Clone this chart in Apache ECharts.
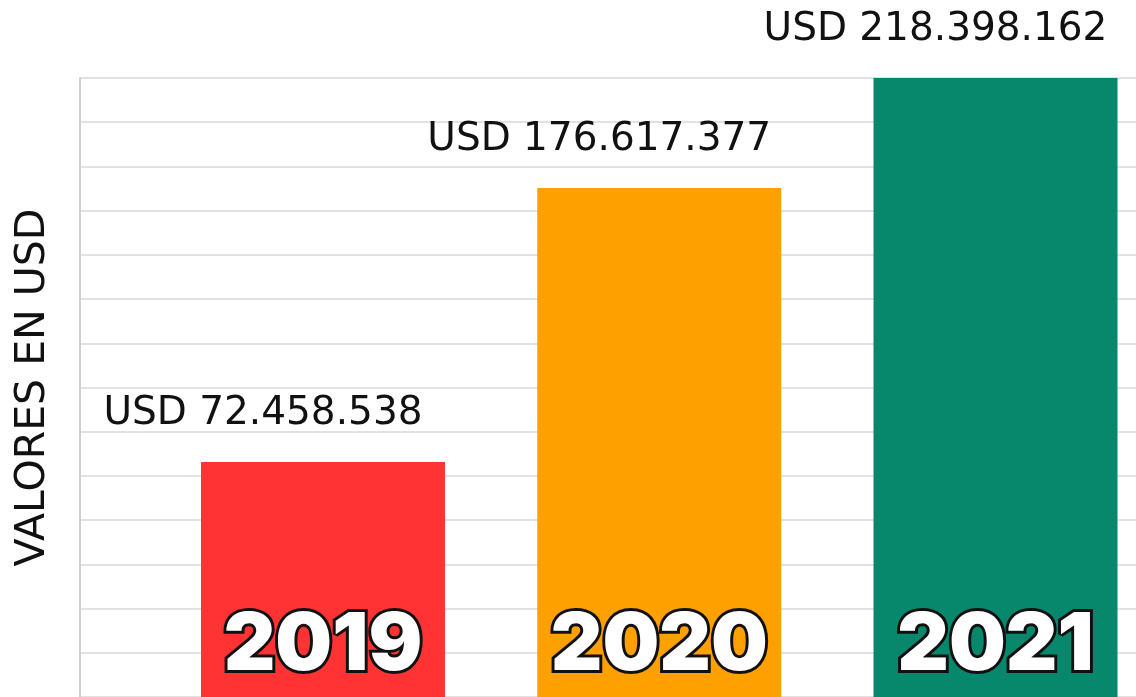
<!DOCTYPE html>
<html>
<head>
<meta charset="utf-8">
<title>Valores en USD</title>
<script src="https://cdn.jsdelivr.net/npm/echarts@6/dist/echarts.min.js"></script>
<style>
  html, body { margin: 0; padding: 0; background: #fff; }
  #chart { width: 1136px; height: 697px; }
</style>
</head>
<body>
<div id="chart"></div>
<script>
// datos
const years = ['2019', '2020', '2021']
const values = [72458538, 176617377, 218398162]

// escala del eje (sin etiquetas visibles)
const axisStep = 16800000
const axisMin = -axisStep
const axisMax = 13 * axisStep

const barColors = ['#ff3334', '#fea000', '#07876c']
const barWidth = 244

const fmt = v => String(v).replace(/\B(?=(\d{3})+(?!\d))/g, '.')

const renderBar = (params, api) => {
  const i = api.value(0)
  const v = api.value(1)
  const top = api.coord([i, v])
  const cs = params.coordSys
  const bottom = cs.y + cs.height
  return {
    type: 'group',
    children: [
      {
        type: 'rect',
        shape: { x: top[0] - barWidth / 2, y: top[1], width: barWidth, height: bottom - top[1] },
        style: { fill: barColors[i] }
      },
      {
        type: 'text',
        x: top[0] - 60,
        y: top[1] - 48,
        style: {
          text: 'USD ' + fmt(v),
          fill: '#111',
          fontSize: 39,
          fontFamily: 'DejaVu Sans',
          align: 'center',
          verticalAlign: 'middle'
        }
      },
      {
        type: 'text',
        x: top[0],
        y: bottom - 51,
        style: {
          text: years[i],
          fill: '#fff',
          stroke: '#111',
          lineWidth: 6,
          strokeFirst: true,
          fontSize: 80,
          fontWeight: 900,
          fontFamily: 'Inter',
          align: 'center',
          verticalAlign: 'middle'
        }
      }
    ]
  }
}

const chart = echarts.init(document.getElementById('chart'))

chart.setOption({
  backgroundColor: '#fff',
  animation: false,
  grid: [
    { left: 80, right: 0, top: 78, height: 622.5 },
    { left: 323, width: 672.5, top: 78, height: 622.5 }
  ],
  xAxis: [
    { type: 'value', gridIndex: 0, show: false, min: 0, max: 1 },
    { type: 'category', gridIndex: 1, data: years, boundaryGap: false, show: false }
  ],
  yAxis: [
    {
      type: 'value',
      gridIndex: 0,
      min: axisMin,
      max: axisMax,
      interval: axisStep,
      name: 'VALORES EN USD',
      nameLocation: 'middle',
      nameGap: 26,
      nameTextStyle: { fontSize: 41, fontFamily: 'DejaVu Sans', color: '#111' },
      axisLine: { show: true, lineStyle: { color: '#cfcfcf', width: 2 } },
      axisTick: { show: false },
      axisLabel: { show: false },
      splitLine: { lineStyle: { color: '#e2e2e2', width: 2 } }
    },
    { type: 'value', gridIndex: 1, min: axisMin, max: axisMax, show: false }
  ],
  series: [
    {
      type: 'custom',
      xAxisIndex: 1,
      yAxisIndex: 1,
      renderItem: renderBar,
      clip: false,
      data: values.map((v, i) => [i, v])
    }
  ]
})
</script>
</body>
</html>
